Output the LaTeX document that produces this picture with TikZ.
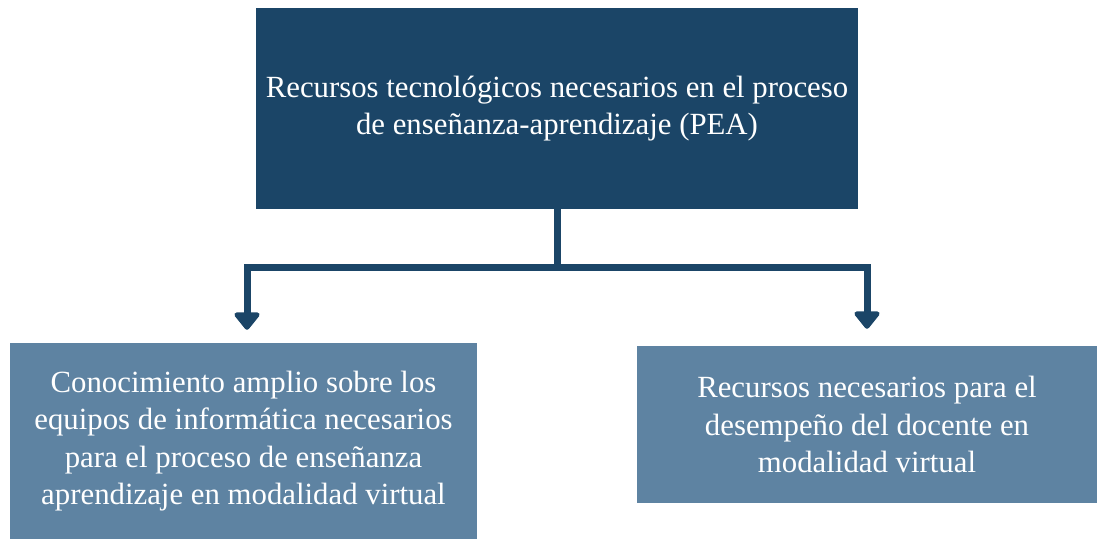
\documentclass[tikz,border=0pt]{standalone}
\usepackage{fontspec}
\setmainfont{Liberation Serif}
\usepackage{xcolor}
\usetikzlibrary{arrows.meta, positioning}

\definecolor{darkblue}{HTML}{1B4567}
\definecolor{lightblue}{HTML}{5E83A2}

\begin{document}
\begin{tikzpicture}[x=1pt, y=-1pt,
    box/.style={rectangle, inner sep=0pt, align=center, text=white,
                font=\fontsize{30.8}{37.5}\selectfont},
    arrow/.style={-{Triangle[width=29pt,length=19pt,round]}, line width=7pt,
                  draw=darkblue},
]
\useasboundingbox (0,0) rectangle (1097,539);

\node[box, fill=darkblue, minimum width=602pt, minimum height=201pt] (pea) at (557,108.5)
  {Recursos tecnológicos necesarios en el proceso\\de enseñanza-aprendizaje (PEA)};
\node[box, fill=lightblue, minimum width=467pt, minimum height=196pt] (conoc) at (243.5,441)
  {Conocimiento amplio sobre los\\equipos de informática necesarios\\para el proceso de enseñanza\\aprendizaje en modalidad virtual};
\node[box, fill=lightblue, minimum width=460pt, minimum height=157pt] (recur) at (867,424.5)
  {Recursos necesarios para el\\desempeño del docente en\\modalidad virtual};

\coordinate (split) at (557,267);
\draw[line width=7pt, draw=darkblue] (pea.south) -- (split);
\draw[arrow] (split) -| ([xshift=3.5pt, yshift=13pt]conoc.north);
\draw[arrow] (split) -| ([yshift=17pt]recur.north);
\end{tikzpicture}
\end{document}
